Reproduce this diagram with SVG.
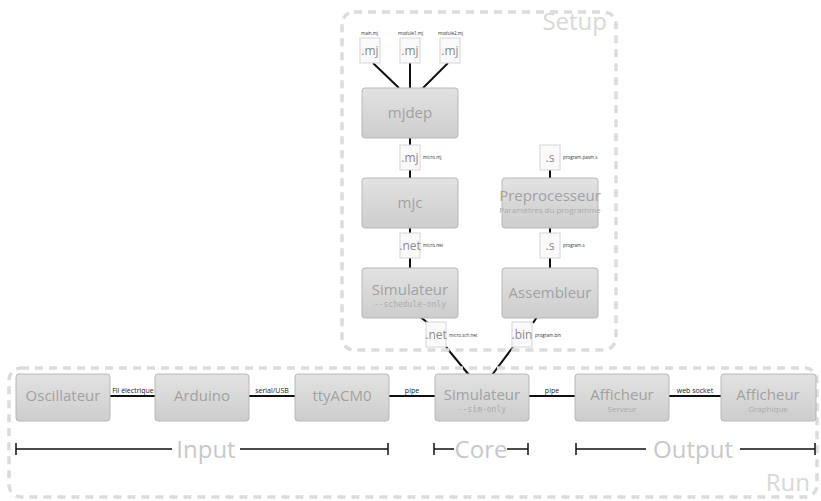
<svg xmlns="http://www.w3.org/2000/svg" width="821" height="501" viewBox="0 0 821 501">
  <defs>
    <linearGradient id="boxfill" x1="0" y1="0" x2="0" y2="1">
      <stop offset="0" stop-color="#e2e2e2"/>
      <stop offset="1" stop-color="#cdcdcd"/>
    </linearGradient>
  </defs>
  <style>
    text { font-family: "Open Sans", "DejaVu Sans", sans-serif; }
    .box { fill: url(#boxfill); stroke: #b8b8b8; stroke-width: 1; }
    .name { fill: #a2a2a2; font-size: 15px; text-anchor: middle; }
    .sub { fill: #ababab; font-size: 8px; text-anchor: middle; }
    .mono { fill: #ababab; font-size: 8px; text-anchor: middle; font-family: "DejaVu Sans Mono", monospace; }
    .file { fill: #fafafa; stroke: #d6d6d6; stroke-width: 1; }
    .ext { fill: #8a8a8a; font-size: 12px; text-anchor: middle; }
    .fname { fill: #333; font-size: 4.5px; }
    .edge { stroke: #111; stroke-width: 2; fill: none; }
    .elabel { fill: #222; font-size: 7px; text-anchor: middle; }
    .frame { fill: none; stroke: #dcdcdc; stroke-width: 3.5; stroke-dasharray: 8 6; }
    .title { fill: #d8d8d8; font-size: 24px; }
    .span { stroke: #111; stroke-width: 1.5; fill: none; }
    .group { fill: #c8c8c8; font-size: 24px; text-anchor: middle; }
  </style>

  <!-- connectors -->
  <g id="connectors">
    <line class="edge" x1="373" y1="63" x2="399" y2="88"/>
    <line class="edge" x1="410" y1="63" x2="410" y2="88"/>
    <line class="edge" x1="448" y1="63" x2="423" y2="88"/>
    <line class="edge" x1="410" y1="138" x2="410" y2="145"/>
    <line class="edge" x1="410" y1="170" x2="410" y2="178"/>
    <line class="edge" x1="410" y1="228" x2="410" y2="233"/>
    <line class="edge" x1="410" y1="258" x2="410" y2="268"/>
    <line class="edge" x1="419" y1="316" x2="428" y2="323"/>
    <line class="edge" x1="550" y1="170" x2="550" y2="178"/>
    <line class="edge" x1="550" y1="228" x2="550" y2="233"/>
    <line class="edge" x1="550" y1="258" x2="550" y2="268"/>
    <line class="edge" x1="537" y1="317" x2="533" y2="323"/>
    <line class="edge" x1="446" y1="347" x2="469" y2="375"/>
    <line class="edge" x1="513" y1="347" x2="492" y2="375"/>
    <line class="edge" x1="110" y1="396" x2="155" y2="396"/>
    <line class="edge" x1="249" y1="396" x2="295" y2="396"/>
    <line class="edge" x1="389" y1="396" x2="435" y2="396"/>
    <line class="edge" x1="529" y1="396" x2="575" y2="396"/>
    <line class="edge" x1="669" y1="396" x2="721" y2="396"/>
    <text class="elabel" x="133" y="393">Fil électrique</text>
    <text class="elabel" x="272" y="393">serial/USB</text>
    <text class="elabel" x="412" y="393">pipe</text>
    <text class="elabel" x="552" y="393">pipe</text>
    <text class="elabel" x="695" y="393">web socket</text>
  </g>

  <!-- cluster frames -->
  <g id="setup">
    <rect class="frame" x="342" y="12" width="274" height="338" rx="12"/>
    <text class="title" x="607" y="30" text-anchor="end">Setup</text>
  </g>
  <g id="run">
    <rect class="frame" x="9" y="368" width="808" height="129" rx="12"/>
    <text class="title" x="810" y="491" text-anchor="end">Run</text>
  </g>

  <!-- source files -->
  <g id="main-mj">
    <rect class="file" x="360" y="38" width="20" height="25"/>
    <text class="ext" x="370" y="55">.mj</text>
    <text class="fname" x="361" y="35">main.mj</text>
  </g>
  <g id="module1-mj">
    <rect class="file" x="400" y="38" width="20" height="25"/>
    <text class="ext" x="410" y="55">.mj</text>
    <text class="fname" x="398" y="35">module1.mj</text>
  </g>
  <g id="module2-mj">
    <rect class="file" x="440" y="38" width="20" height="25"/>
    <text class="ext" x="450" y="55">.mj</text>
    <text class="fname" x="438" y="35">module2.mj</text>
  </g>

  <!-- setup chain -->
  <g id="mjdep">
    <rect class="box" x="362" y="88" width="96" height="50" rx="3"/>
    <text class="name" x="410" y="118">mjdep</text>
  </g>
  <g id="micro-mj">
    <rect class="file" x="400" y="145" width="20" height="25"/>
    <text class="ext" x="410" y="162">.mj</text>
    <text class="fname" x="423" y="159">micro.mj</text>
  </g>
  <g id="mjc">
    <rect class="box" x="362" y="178" width="96" height="50" rx="3"/>
    <text class="name" x="410" y="208">mjc</text>
  </g>
  <g id="micro-net">
    <rect class="file" x="400" y="233" width="20" height="25"/>
    <text class="ext" x="410" y="250">.net</text>
    <text class="fname" x="423" y="247">micro.net</text>
  </g>
  <g id="simulateur-schedule">
    <rect class="box" x="362" y="268" width="96" height="50" rx="3"/>
    <text class="name" x="410" y="295">Simulateur</text>
    <text class="mono" x="410" y="307">--schedule-only</text>
  </g>
  <g id="micro-sch-net">
    <rect class="file" x="426" y="322" width="20" height="25"/>
    <text class="ext" x="436" y="339">.net</text>
    <text class="fname" x="449" y="337">micro.sch.net</text>
  </g>

  <g id="program-pasm-s">
    <rect class="file" x="540" y="145" width="20" height="25"/>
    <text class="ext" x="550" y="162">.s</text>
    <text class="fname" x="563" y="159">program.pasm.s</text>
  </g>
  <g id="preprocesseur">
    <rect class="box" x="502" y="178" width="96" height="50" rx="3"/>
    <text class="name" x="550" y="201" font-size="13.5">Preprocesseur</text>
    <text class="sub" x="550" y="213" font-size="7.5">Paramètres du programme</text>
  </g>
  <g id="program-s">
    <rect class="file" x="540" y="233" width="20" height="25"/>
    <text class="ext" x="550" y="250">.s</text>
    <text class="fname" x="563" y="247">program.s</text>
  </g>
  <g id="assembleur">
    <rect class="box" x="502" y="268" width="96" height="50" rx="3"/>
    <text class="name" x="550" y="298">Assembleur</text>
  </g>
  <g id="program-bin">
    <rect class="file" x="512" y="322" width="20" height="25"/>
    <text class="ext" x="522" y="339">.bin</text>
    <text class="fname" x="535" y="337">program.bin</text>
  </g>

  <!-- run chain -->
  <g id="oscillateur">
    <rect class="box" x="16" y="374" width="94" height="47" rx="3"/>
    <text class="name" x="63" y="401">Oscillateur</text>
  </g>
  <g id="arduino">
    <rect class="box" x="155" y="374" width="94" height="47" rx="3"/>
    <text class="name" x="202" y="401">Arduino</text>
  </g>
  <g id="ttyacm0">
    <rect class="box" x="295" y="374" width="94" height="47" rx="3"/>
    <text class="name" x="342" y="401">ttyACM0</text>
  </g>
  <g id="simulateur-sim">
    <rect class="box" x="435" y="374" width="94" height="47" rx="3"/>
    <text class="name" x="482" y="400">Simulateur</text>
    <text class="mono" x="482" y="412">--sim-only</text>
  </g>
  <g id="afficheur-serveur">
    <rect class="box" x="575" y="374" width="94" height="47" rx="3"/>
    <text class="name" x="622" y="400">Afficheur</text>
    <text class="sub" x="622" y="412">Serveur</text>
  </g>
  <g id="afficheur-graphique">
    <rect class="box" x="721" y="374" width="95" height="47" rx="3"/>
    <text class="name" x="768" y="400">Afficheur</text>
    <text class="sub" x="768" y="412">Graphique</text>
  </g>

  <!-- stage spans -->
  <g id="input-span">
    <path class="span" d="M16 443 V455 M16 449 H172 M240 449 H388 M388 443 V455"/>
    <text class="group" x="206" y="458">Input</text>
  </g>
  <g id="core-span">
    <path class="span" d="M434 443 V455 M434 449 H454 M507 449 H528 M528 443 V455"/>
    <text class="group" x="481" y="458">Core</text>
  </g>
  <g id="output-span">
    <path class="span" d="M576 443 V455 M576 449 H646 M740 449 H815 M815 443 V455"/>
    <text class="group" x="693" y="458">Output</text>
  </g>
</svg>
